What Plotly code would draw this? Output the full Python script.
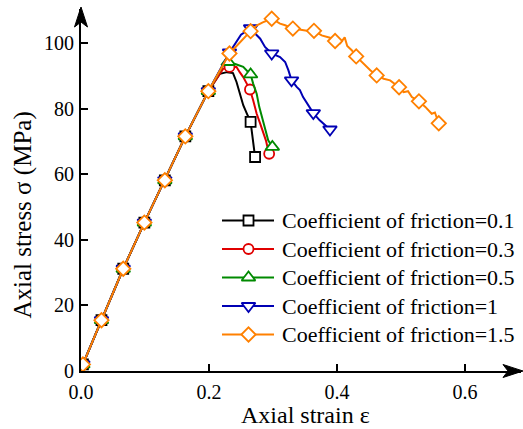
import plotly.graph_objects as go

# Stress-strain curves under uniaxial compression for several friction coefficients.
# Each series: axial strain, axial stress (MPa), and indices of points drawn with a symbol.
strain_01 = [0.000, 0.003, 0.032, 0.066, 0.099, 0.131, 0.163, 0.199, 0.217, 0.228, 0.2375,
             0.243, 0.248, 0.2535, 0.259, 0.265, 0.272]
stress_01 = [0.0, 2.0, 15.5, 31.2, 45.3, 58.2, 71.6, 85.4, 90.7, 91.2, 90.9,
             88.2, 84.6, 81.1, 78.6, 76.0, 65.3]
marks_01 = [1, 2, 3, 4, 5, 6, 7, 15, 16]

strain_03 = [0.000, 0.003, 0.032, 0.066, 0.099, 0.131, 0.163, 0.199, 0.222, 0.232, 0.243,
             0.248, 0.2535, 0.259, 0.264, 0.269, 0.2745, 0.280, 0.285, 0.289, 0.2925, 0.294]
stress_03 = [0.0, 2.0, 15.5, 31.2, 45.3, 58.2, 71.6, 85.4, 92.2, 92.8, 92.8,
             91.2, 89.7, 87.7, 85.9, 82.6, 78.5, 75.5, 72.4, 70.3, 67.3, 66.3]
marks_03 = [1, 2, 3, 4, 5, 6, 7, 9, 14, 21]

strain_05 = [0.000, 0.003, 0.032, 0.066, 0.099, 0.131, 0.163, 0.199, 0.222, 0.230, 0.236,
             0.242, 0.2535, 0.265, 0.269, 0.2745, 0.2785, 0.284, 0.2875, 0.2925, 0.299]
stress_05 = [0.0, 2.0, 15.5, 31.2, 45.3, 58.2, 71.6, 85.4, 93.3, 94.3, 94.0,
             93.6, 92.8, 90.5, 87.7, 84.6, 80.6, 76.5, 73.5, 70.4, 68.4]
marks_05 = [1, 2, 3, 4, 5, 6, 7, 9, 13, 20]

strain_1 = [0.000, 0.003, 0.032, 0.066, 0.099, 0.131, 0.163, 0.199, 0.232, 0.250, 0.265,
            0.272, 0.280, 0.2875, 0.298, 0.311, 0.319, 0.324, 0.329, 0.337, 0.342,
            0.347, 0.355, 0.363, 0.373, 0.381, 0.389]
stress_1 = [0.0, 2.0, 15.5, 31.2, 45.3, 58.2, 71.6, 85.4, 97.2, 102.6, 104.6,
            103.0, 101.4, 98.9, 96.9, 95.8, 94.3, 91.8, 88.7, 86.7, 85.7,
            83.6, 81.1, 78.7, 76.5, 75.0, 73.7]
marks_1 = [1, 2, 3, 4, 5, 6, 7, 8, 10, 14, 18, 23, 26]

strain_15 = [0.000, 0.003, 0.032, 0.066, 0.099, 0.131, 0.163, 0.199, 0.232, 0.265, 0.275,
             0.284, 0.298, 0.311, 0.319, 0.331, 0.345, 0.353, 0.364, 0.376, 0.389,
             0.397, 0.405, 0.412, 0.416, 0.423, 0.430, 0.444, 0.452, 0.462, 0.473,
             0.483, 0.497, 0.504, 0.511, 0.517, 0.528, 0.538, 0.548, 0.553, 0.559]
stress_15 = [0.0, 2.0, 15.5, 31.2, 45.3, 58.2, 71.6, 85.4, 96.9, 103.7, 105.5,
             106.4, 107.5, 106.0, 105.5, 104.5, 104.2, 103.8, 103.8, 102.4, 101.7,
             100.7, 100.0, 101.8, 99.2, 97.9, 96.0, 93.3, 91.8, 90.2, 89.2,
             88.7, 86.6, 85.1, 85.4, 83.6, 82.3, 80.6, 78.5, 78.9, 75.6]
marks_15 = [1, 2, 3, 4, 5, 6, 7, 8, 9, 12, 15, 18, 21, 26, 29, 32, 36, 40]

labels = ["Coefficient of friction=0.1", "Coefficient of friction=0.3",
          "Coefficient of friction=0.5", "Coefficient of friction=1",
          "Coefficient of friction=1.5"]
colors = ["#000000", "#e00000", "#008a00", "#0000b4", "#ff8000"]
symbols = ["square", "circle", "triangle-up", "triangle-down", "diamond"]
sizes = [10, 10, 12, 12, 11]

series = [(strain_01, stress_01, marks_01), (strain_03, stress_03, marks_03),
          (strain_05, stress_05, marks_05), (strain_1, stress_1, marks_1),
          (strain_15, stress_15, marks_15)]

FONT = "Liberation Serif"
fig = go.Figure()

# Curves first, hollow (white-filled) symbols on top of each curve
for (sx, sy, mk), col, sym, sz in zip(series, colors, symbols, sizes):
    fig.add_trace(go.Scatter(x=sx, y=sy, mode="lines",
                             line=dict(color=col, width=2), hoverinfo="skip"))
    fig.add_trace(go.Scatter(x=[sx[i] for i in mk], y=[sy[i] for i in mk], mode="markers",
                             marker=dict(symbol=sym, size=sz, color="white",
                                         line=dict(color=col, width=1.8)),
                             hoverinfo="skip"))

# Legend drawn on an overlay axis pair measured in layout pixels
row_y = [220.5, 249, 277.5, 306, 334.5]
for lab, col, sym, sz, yy in zip(labels, colors, symbols, sizes, row_y):
    fig.add_trace(go.Scatter(x=[222, 274], y=[yy, yy], mode="lines", xaxis="x2", yaxis="y2",
                             line=dict(color=col, width=2), hoverinfo="skip"))
    fig.add_trace(go.Scatter(x=[248.5], y=[yy], mode="markers", xaxis="x2", yaxis="y2",
                             marker=dict(symbol=sym, size=sz, color="white",
                                         line=dict(color=col, width=1.8)),
                             hoverinfo="skip"))
    fig.add_annotation(x=280, y=yy, xref="x2", yref="y2", text=lab, showarrow=False,
                       xanchor="left", yanchor="middle",
                       font=dict(family=FONT, size=22, color="black"))

axis_common = dict(showline=True, linecolor="black", linewidth=2, showgrid=False,
                   zeroline=False, ticks="inside", ticklen=7, tickwidth=2, tickcolor="black",
                   tickfont=dict(family=FONT, size=20, color="black"))

fig.update_layout(
    width=523, height=429,
    margin=dict(l=81, r=2, t=9, b=58),
    paper_bgcolor="white", plot_bgcolor="white",
    showlegend=False,
    xaxis=dict(range=[0, 0.6875], tickvals=[0, 0.2, 0.4, 0.6],
               ticktext=["0.0", "0.2", "0.4", "0.6"], ticklabelstandoff=2, **axis_common),
    yaxis=dict(range=[0, 110.47], tickvals=[0, 20, 40, 60, 80, 100],
               ticklabelstandoff=1, **axis_common),
    xaxis2=dict(overlaying="x", range=[81, 521], visible=False),
    yaxis2=dict(overlaying="y", range=[371, 9], visible=False),
)

# Axis titles
fig.add_annotation(x=(305 - 81) / 440, y=(371 - 415) / 362, xref="paper", yref="paper",
                   text="Axial strain ε", showarrow=False, xanchor="center", yanchor="middle",
                   font=dict(family=FONT, size=24, color="black"))
fig.add_annotation(x=(22 - 81) / 440, y=(371 - 215.5) / 362, xref="paper", yref="paper",
                   text="Axial stress σ (MPa)", showarrow=False, textangle=-90,
                   xanchor="center", yanchor="middle",
                   font=dict(family=FONT, size=25, color="black"))

# Arrowheads at the ends of both axes
fig.add_shape(type="path", xref="paper", yref="paper", xsizemode="pixel", ysizemode="pixel",
              xanchor=1, yanchor=0, path="M 2,0 L -18,6.5 L -13,0 L -18,-6.5 Z",
              fillcolor="black", line=dict(color="black", width=1))
fig.add_shape(type="path", xref="paper", yref="paper", xsizemode="pixel", ysizemode="pixel",
              xanchor=0, yanchor=1, path="M 0,2 L 6.5,-18 L 0,-13 L -6.5,-18 Z",
              fillcolor="black", line=dict(color="black", width=1))

fig.write_html("out.html")
